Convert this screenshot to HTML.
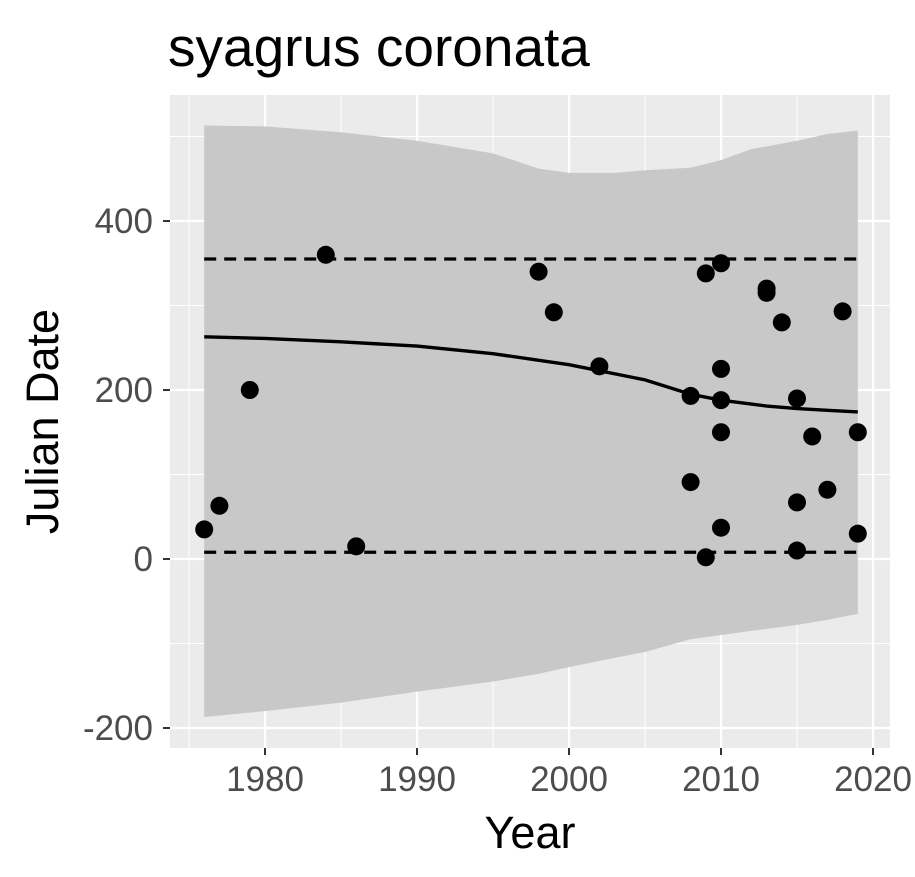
<!DOCTYPE html>
<html><head><meta charset="utf-8"><style>
html,body{margin:0;padding:0;background:#fff;}
svg{display:block;font-family:"Liberation Sans",Arial,sans-serif;}
</style></head><body>
<svg id="chart" width="915" height="877"></svg>
<script>
const pointYears=[1976,1977,1979,1984,1986,1998,1999,2002,2008,2008,2009,2009,2010,2010,2010,2010,2010,2013,2013,2014,2015,2015,2015,2016,2017,2018,2019,2019];
const pointDays=[35,63,200,360,15,340,292,228,193,91,338,2,350,225,188,150,37,320,315,280,190,67,10,145,82,293,150,30];
const ribbonYears=[1976,1980,1985,1990,1995,1998,2000,2003,2005,2008,2010,2012,2015,2017,2019];
const ribbonUpper=[513,512,505,495,480,462,457,457,460,463,472,485,495,503,507];
const ribbonLower=[-187,-180,-170,-157,-145,-136,-128,-117,-110,-95,-90,-85,-78,-72,-65];
const fitYears=[1976,1980,1985,1990,1995,2000,2005,2008,2010,2013,2015,2017,2019];
const fitValues=[263,261,257,252,243,230,212,195,188,181,178,176,174];
const dashUpper=[355,355];
const dashLower=[8,8];
const dashYears=[1976,2019];
const xTicks=[1980,1990,2000,2010,2020];
const yTicks=[-200,0,200,400];

const svg=document.getElementById('chart');
const NS='http://www.w3.org/2000/svg';
const L=170,R=890,T=95,B=748;
const x=v=>265+(v-1980)*15.2;
const y=v=>559-v*0.845;
function mk(tag,attrs,parent){const e=document.createElementNS(NS,tag);for(const k in attrs)e.setAttribute(k,attrs[k]);(parent||svg).appendChild(e);return e;}

const panel=mk('rect',{x:L,y:T,width:R-L,height:B-T,fill:'#ebebeb'});


for(let i=0;i<xTicks.length-1;i++){const m=(xTicks[i]+xTicks[i+1])/2;mk('line',{x1:x(m),x2:x(m),y1:T,y2:B,stroke:'#fff','stroke-width':1});}
mk('line',{x1:x(1975),x2:x(1975),y1:T,y2:B,stroke:'#fff','stroke-width':1});
for(let i=0;i<yTicks.length-1;i++){const m=(yTicks[i]+yTicks[i+1])/2;mk('line',{x1:L,x2:R,y1:y(m),y2:y(m),stroke:'#fff','stroke-width':1});}
mk('line',{x1:L,x2:R,y1:y(500),y2:y(500),stroke:'#fff','stroke-width':1});
xTicks.forEach(t=>mk('line',{x1:x(t),x2:x(t),y1:T,y2:B,stroke:'#fff','stroke-width':2.2}));
yTicks.forEach(t=>mk('line',{x1:L,x2:R,y1:y(t),y2:y(t),stroke:'#fff','stroke-width':2.2}));

let d='';
ribbonYears.forEach((v,i)=>{d+=(i?'L':'M')+x(v)+','+y(ribbonUpper[i]);});
for(let i=ribbonYears.length-1;i>=0;i--)d+='L'+x(ribbonYears[i])+','+y(ribbonLower[i]);
const rib=mk('path',{d:d+'Z',fill:'#c8c8c8'});



[dashUpper,dashLower].forEach((arr,j)=>{
  const p=mk('polyline',{points:dashYears.map((v,i)=>x(v)+','+y(arr[i])).join(' '),fill:'none',stroke:'#000','stroke-width':3.2,'stroke-dasharray':'12,8'});
  
  
});
const fit=mk('polyline',{points:fitYears.map((v,i)=>x(v)+','+y(fitValues[i])).join(' '),fill:'none',stroke:'#000','stroke-width':3.4});



pointYears.forEach((v,i)=>{
  const c=mk('circle',{cx:x(v),cy:y(pointDays[i]),r:9,fill:'#000'});
  
  
});

xTicks.forEach(t=>{
  mk('line',{x1:x(t),x2:x(t),y1:B,y2:B+7,stroke:'#333','stroke-width':2});
  const tx=mk('text',{x:x(t),y:791,'text-anchor':'middle','font-size':35,fill:'#4d4d4d'});tx.textContent=t;
  
  
});
yTicks.forEach(t=>{
  mk('line',{x1:L-7,x2:L,y1:y(t),y2:y(t),stroke:'#333','stroke-width':2});
  const tx=mk('text',{x:L-17,y:y(t)+12,'text-anchor':'end','font-size':35,fill:'#4d4d4d'});tx.textContent=t;
  
  
});
const xt=mk('text',{x:(L+R)/2,y:848,'text-anchor':'middle','font-size':45,fill:'#000'});xt.textContent='Year';


const yt=mk('text',{x:0,y:0,'text-anchor':'middle','font-size':45,fill:'#000',transform:'translate(58,'+((T+B)/2)+') rotate(-90)'});yt.textContent='Julian Date';


const ti=mk('text',{x:168,y:66,'font-size':55,fill:'#000'});ti.textContent='syagrus coronata';


</script>
</body></html>
